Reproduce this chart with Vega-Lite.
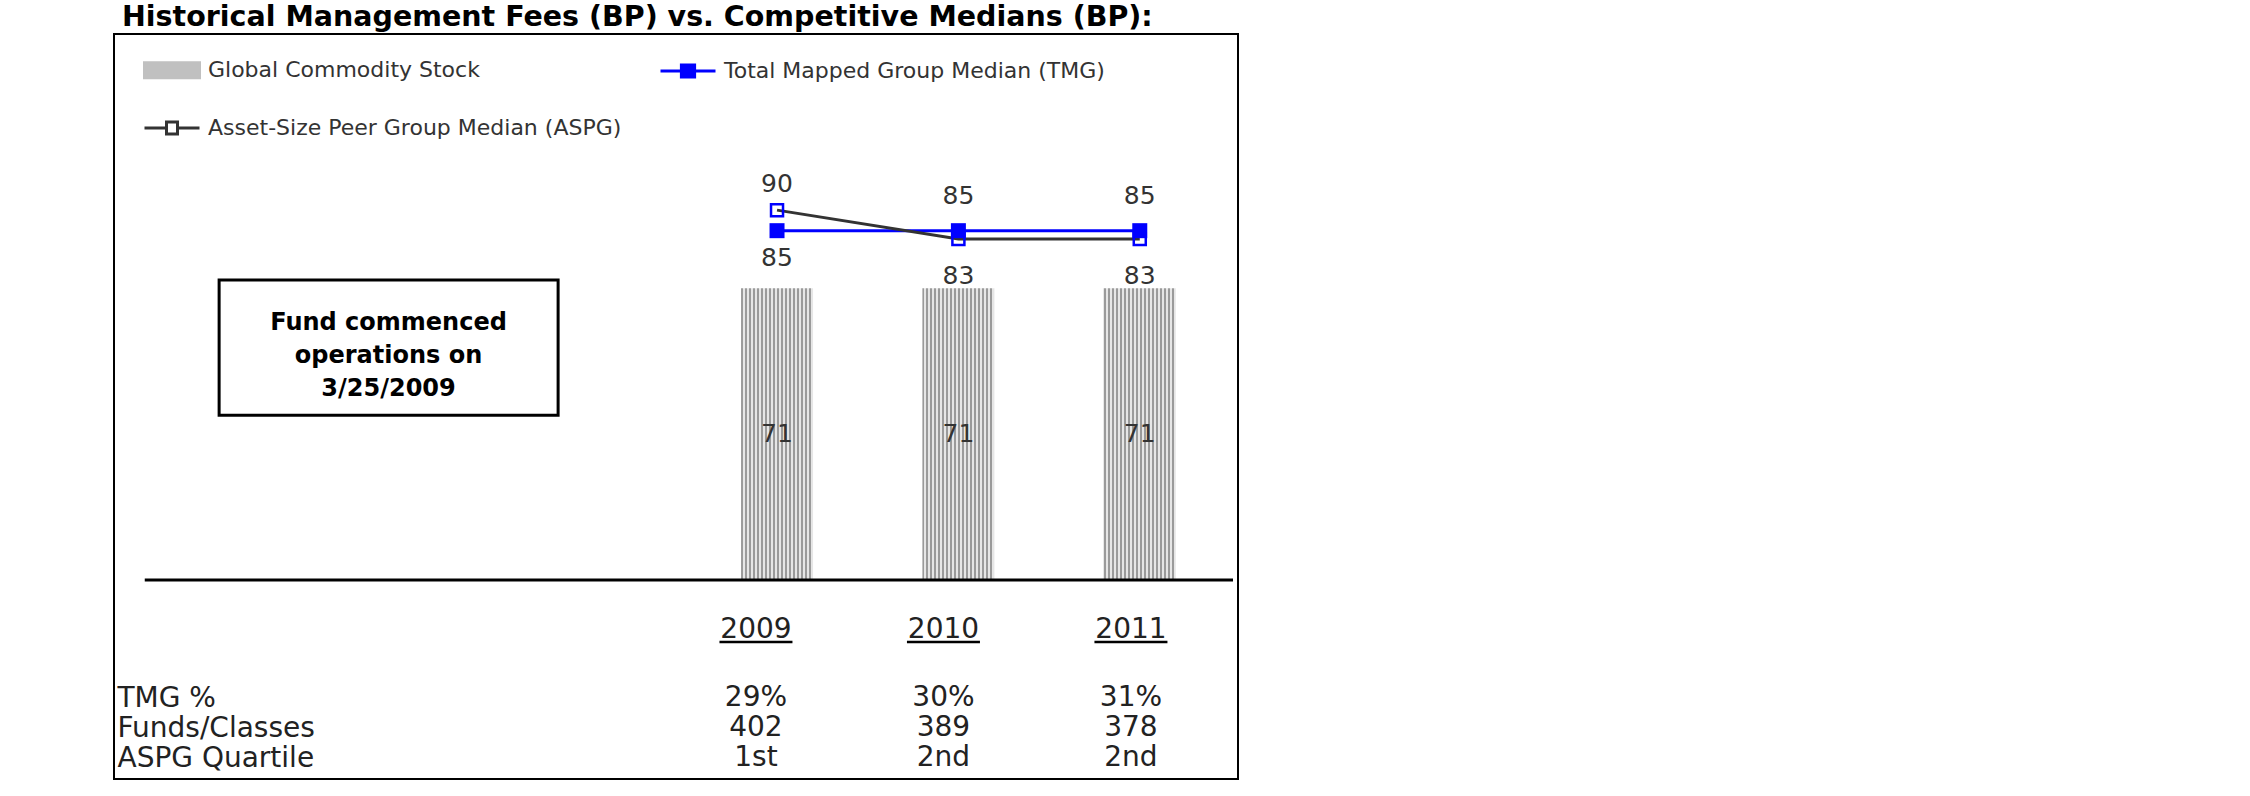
{
  "$schema": "https://vega.github.io/schema/vega-lite/v6.json",
  "width": 1124,
  "height": 745,
  "autosize": {"type": "none"},
  "padding": {"left": 114, "top": 34, "right": 1012, "bottom": 17},
  "background": "#ffffff",
  "title": {
    "text": "Historical Management Fees (BP) vs. Competitive Medians (BP):",
    "anchor": "start",
    "frame": "group",
    "font": "DejaVu Sans",
    "fontSize": 28.5,
    "fontWeight": "bold",
    "color": "#000000",
    "baseline": "alphabetic",
    "offset": -20.5,
    "dx": 8
  },
  "config": {
    "view": {"stroke": "#000000", "strokeWidth": 2},
    "font": "DejaVu Sans",
    "text": {"font": "DejaVu Sans"}
  },
  "datasets": {
    "fees": [
      {"year": 2009, "series": "Global Commodity Stock", "fee": 71},
      {"year": 2010, "series": "Global Commodity Stock", "fee": 71},
      {"year": 2011, "series": "Global Commodity Stock", "fee": 71}
    ],
    "medians": [
      {"year": 2009, "series": "Total Mapped Group Median (TMG)", "bp": 85},
      {"year": 2010, "series": "Total Mapped Group Median (TMG)", "bp": 85},
      {"year": 2011, "series": "Total Mapped Group Median (TMG)", "bp": 85},
      {"year": 2009, "series": "Asset-Size Peer Group Median (ASPG)", "bp": 90},
      {"year": 2010, "series": "Asset-Size Peer Group Median (ASPG)", "bp": 83},
      {"year": 2011, "series": "Asset-Size Peer Group Median (ASPG)", "bp": 83}
    ],
    "header": [
      {"year": 2009, "row": "Year", "label": "2009"},
      {"year": 2010, "row": "Year", "label": "2010"},
      {"year": 2011, "row": "Year", "label": "2011"}
    ],
    "table": [
      {"year": 2009, "row": "TMG %", "cell": "29%"},
      {"year": 2010, "row": "TMG %", "cell": "30%"},
      {"year": 2011, "row": "TMG %", "cell": "31%"},
      {"year": 2009, "row": "Funds/Classes", "cell": "402"},
      {"year": 2010, "row": "Funds/Classes", "cell": "389"},
      {"year": 2011, "row": "Funds/Classes", "cell": "378"},
      {"year": 2009, "row": "ASPG Quartile", "cell": "1st"},
      {"year": 2010, "row": "ASPG Quartile", "cell": "2nd"},
      {"year": 2011, "row": "ASPG Quartile", "cell": "2nd"}
    ],
    "note": [
      {"note": "Fund commenced\noperations on\n3/25/2009"}
    ]
  },
  "layer": [
    {
      "layer": [
        {
          "data": {"name": "fees"},
          "mark": {
            "type": "bar",
            "width": 72,
            "fill": {
              "gradient": "linear", "x1": 0, "x2": 1, "y1": 0, "y2": 0,
              "stops": [
                {"offset": 0, "color": "#9a9a9a"}, {"offset": 0.02778, "color": "#9a9a9a"}, {"offset": 0.02778, "color": "#e6e6e6"}, {"offset": 0.05556, "color": "#e6e6e6"},
                {"offset": 0.05556, "color": "#9a9a9a"}, {"offset": 0.08333, "color": "#9a9a9a"}, {"offset": 0.08333, "color": "#e6e6e6"}, {"offset": 0.11111, "color": "#e6e6e6"},
                {"offset": 0.11111, "color": "#9a9a9a"}, {"offset": 0.13889, "color": "#9a9a9a"}, {"offset": 0.13889, "color": "#e6e6e6"}, {"offset": 0.16667, "color": "#e6e6e6"},
                {"offset": 0.16667, "color": "#9a9a9a"}, {"offset": 0.19444, "color": "#9a9a9a"}, {"offset": 0.19444, "color": "#e6e6e6"}, {"offset": 0.22222, "color": "#e6e6e6"},
                {"offset": 0.22222, "color": "#9a9a9a"}, {"offset": 0.25, "color": "#9a9a9a"}, {"offset": 0.25, "color": "#e6e6e6"}, {"offset": 0.27778, "color": "#e6e6e6"},
                {"offset": 0.27778, "color": "#9a9a9a"}, {"offset": 0.30556, "color": "#9a9a9a"}, {"offset": 0.30556, "color": "#e6e6e6"}, {"offset": 0.33333, "color": "#e6e6e6"},
                {"offset": 0.33333, "color": "#9a9a9a"}, {"offset": 0.36111, "color": "#9a9a9a"}, {"offset": 0.36111, "color": "#e6e6e6"}, {"offset": 0.38889, "color": "#e6e6e6"},
                {"offset": 0.38889, "color": "#9a9a9a"}, {"offset": 0.41667, "color": "#9a9a9a"}, {"offset": 0.41667, "color": "#e6e6e6"}, {"offset": 0.44444, "color": "#e6e6e6"},
                {"offset": 0.44444, "color": "#9a9a9a"}, {"offset": 0.47222, "color": "#9a9a9a"}, {"offset": 0.47222, "color": "#e6e6e6"}, {"offset": 0.5, "color": "#e6e6e6"},
                {"offset": 0.5, "color": "#9a9a9a"}, {"offset": 0.52778, "color": "#9a9a9a"}, {"offset": 0.52778, "color": "#e6e6e6"}, {"offset": 0.55556, "color": "#e6e6e6"},
                {"offset": 0.55556, "color": "#9a9a9a"}, {"offset": 0.58333, "color": "#9a9a9a"}, {"offset": 0.58333, "color": "#e6e6e6"}, {"offset": 0.61111, "color": "#e6e6e6"},
                {"offset": 0.61111, "color": "#9a9a9a"}, {"offset": 0.63889, "color": "#9a9a9a"}, {"offset": 0.63889, "color": "#e6e6e6"}, {"offset": 0.66667, "color": "#e6e6e6"},
                {"offset": 0.66667, "color": "#9a9a9a"}, {"offset": 0.69444, "color": "#9a9a9a"}, {"offset": 0.69444, "color": "#e6e6e6"}, {"offset": 0.72222, "color": "#e6e6e6"},
                {"offset": 0.72222, "color": "#9a9a9a"}, {"offset": 0.75, "color": "#9a9a9a"}, {"offset": 0.75, "color": "#e6e6e6"}, {"offset": 0.77778, "color": "#e6e6e6"},
                {"offset": 0.77778, "color": "#9a9a9a"}, {"offset": 0.80556, "color": "#9a9a9a"}, {"offset": 0.80556, "color": "#e6e6e6"}, {"offset": 0.83333, "color": "#e6e6e6"},
                {"offset": 0.83333, "color": "#9a9a9a"}, {"offset": 0.86111, "color": "#9a9a9a"}, {"offset": 0.86111, "color": "#e6e6e6"}, {"offset": 0.88889, "color": "#e6e6e6"},
                {"offset": 0.88889, "color": "#9a9a9a"}, {"offset": 0.91667, "color": "#9a9a9a"}, {"offset": 0.91667, "color": "#e6e6e6"}, {"offset": 0.94444, "color": "#e6e6e6"},
                {"offset": 0.94444, "color": "#9a9a9a"}, {"offset": 0.97222, "color": "#9a9a9a"}, {"offset": 0.97222, "color": "#e6e6e6"}, {"offset": 1, "color": "#e6e6e6"}
              ]
            }
          },
          "encoding": {
            "x": {"field": "year", "type": "quantitative", "scale": {"domain": [2005.372, 2011.514], "nice": false, "zero": false}, "axis": null},
            "y": {"field": "fee", "type": "quantitative", "scale": {"domain": [-48.4, 132.85], "nice": false}, "axis": null}
          }
        },
        {
          "data": {"name": "medians"},
          "transform": [{"filter": "datum.series === 'Total Mapped Group Median (TMG)'"}],
          "mark": {"type": "line", "strokeWidth": 3},
          "encoding": {
            "x": {"field": "year", "type": "quantitative"},
            "y": {"field": "bp", "type": "quantitative"},
            "color": {
              "field": "series",
              "type": "nominal",
              "scale": {
                "domain": ["Global Commodity Stock", "Total Mapped Group Median (TMG)", "Asset-Size Peer Group Median (ASPG)"],
                "range": ["#c0c0c0", "#0000ff", "#333333"]
              },
              "legend": {
                "orient": "none",
                "legendX": 29,
                "legendY": 7,
                "direction": "horizontal",
                "columns": 2,
                "columnPadding": 32,
                "rowPadding": 15,
                "padding": 0,
                "title": null,
                "symbolSize": 3025,
                "symbolStrokeWidth": 3,
                "labelFont": "DejaVu Sans",
                "labelFontSize": 22,
                "labelColor": "#333333",
                "labelLimit": 0,
                "labelOffset": 7,
                "encode": {
                  "symbols": {
                    "update": {
                      "shape": {"signal": "datum.value === 'Global Commodity Stock' ? 'M-1,-0.27H1V0.27H-1Z' : datum.value === 'Total Mapped Group Median (TMG)' ? 'M-1,0H1M-0.24,-0.22H0.24V0.22H-0.24Z' : 'M-1,0H-0.2M0.2,0H1M-0.2,-0.22H0.2V0.22H-0.2Z'"},
                      "fill": {"signal": "datum.value === 'Global Commodity Stock' ? '#c0c0c0' : datum.value === 'Total Mapped Group Median (TMG)' ? '#0000ff' : '#ffffff'"},
                      "stroke": {"signal": "datum.value === 'Global Commodity Stock' ? 'transparent' : datum.value === 'Total Mapped Group Median (TMG)' ? '#0000ff' : '#333333'"},
                      "strokeWidth": {"value": 3},
                      "opacity": {"value": 1}
                    }
                  }
                }
              }
            }
          }
        },
        {
          "data": {"name": "medians"},
          "transform": [{"filter": "datum.series === 'Asset-Size Peer Group Median (ASPG)'"}],
          "mark": {"type": "line", "strokeWidth": 3, "color": "#333333"},
          "encoding": {
            "x": {"field": "year", "type": "quantitative"},
            "y": {"field": "bp", "type": "quantitative"}
          }
        },
        {
          "data": {"name": "medians"},
          "transform": [{"filter": "datum.series === 'Asset-Size Peer Group Median (ASPG)'"}],
          "mark": {"type": "point", "shape": "square", "size": 144, "filled": false, "stroke": "#0000ff", "strokeWidth": 2.5, "opacity": 1},
          "encoding": {
            "x": {"field": "year", "type": "quantitative"},
            "y": {"field": "bp", "type": "quantitative"}
          }
        },
        {
          "data": {"name": "medians"},
          "transform": [{"filter": "datum.series === 'Total Mapped Group Median (TMG)'"}],
          "mark": {"type": "point", "shape": "square", "size": 225, "filled": true, "color": "#0000ff", "opacity": 1},
          "encoding": {
            "x": {"field": "year", "type": "quantitative"},
            "y": {"field": "bp", "type": "quantitative"}
          }
        },
        {
          "data": {"name": "medians"},
          "transform": [{"filter": "datum.series === 'Total Mapped Group Median (TMG)' && datum.year !== 2009"}],
          "mark": {"type": "text", "fontSize": 25, "color": "#333333", "baseline": "alphabetic", "dy": -27},
          "encoding": {
            "x": {"field": "year", "type": "quantitative"},
            "y": {"field": "bp", "type": "quantitative"},
            "text": {"field": "bp", "type": "quantitative"}
          }
        },
        {
          "data": {"name": "medians"},
          "transform": [{"filter": "datum.series === 'Total Mapped Group Median (TMG)' && datum.year === 2009"}],
          "mark": {"type": "text", "fontSize": 25, "color": "#333333", "baseline": "alphabetic", "dy": 35},
          "encoding": {
            "x": {"field": "year", "type": "quantitative"},
            "y": {"field": "bp", "type": "quantitative"},
            "text": {"field": "bp", "type": "quantitative"}
          }
        },
        {
          "data": {"name": "medians"},
          "transform": [{"filter": "datum.series === 'Asset-Size Peer Group Median (ASPG)' && datum.year === 2009"}],
          "mark": {"type": "text", "fontSize": 25, "color": "#333333", "baseline": "alphabetic", "dy": -18},
          "encoding": {
            "x": {"field": "year", "type": "quantitative"},
            "y": {"field": "bp", "type": "quantitative"},
            "text": {"field": "bp", "type": "quantitative"}
          }
        },
        {
          "data": {"name": "medians"},
          "transform": [{"filter": "datum.series === 'Asset-Size Peer Group Median (ASPG)' && datum.year !== 2009"}],
          "mark": {"type": "text", "fontSize": 25, "color": "#333333", "baseline": "alphabetic", "dy": 45},
          "encoding": {
            "x": {"field": "year", "type": "quantitative"},
            "y": {"field": "bp", "type": "quantitative"},
            "text": {"field": "bp", "type": "quantitative"}
          }
        },
        {
          "data": {"name": "fees"},
          "mark": {"type": "text", "fontSize": 25, "color": "#333333", "baseline": "middle", "dy": 146},
          "encoding": {
            "x": {"field": "year", "type": "quantitative"},
            "y": {"field": "fee", "type": "quantitative"},
            "text": {"field": "fee", "type": "quantitative"}
          }
        },
        {
          "data": {"values": [{"baseline": 0}]},
          "mark": {"type": "rule", "strokeWidth": 3, "color": "#000000"},
          "encoding": {
            "y": {"field": "baseline", "type": "quantitative"},
            "x": {"datum": 2005.514},
            "x2": {"datum": 2011.514}
          }
        },
        {
          "data": {"name": "note"},
          "mark": {"type": "rect", "fill": "#ffffff", "stroke": "#000000", "strokeWidth": 3},
          "encoding": {
            "x": {"datum": 2005.924},
            "x2": {"datum": 2007.793},
            "y": {"datum": 73.0},
            "y2": {"datum": 40.1}
          }
        },
        {
          "data": {"name": "note"},
          "mark": {"type": "text", "fontSize": 24, "fontWeight": "bold", "color": "#000000", "align": "center", "baseline": "alphabetic", "lineBreak": "\n", "lineHeight": 33},
          "encoding": {
            "x": {"datum": 2006.858},
            "y": {"datum": 60.8},
            "text": {"field": "note", "type": "nominal"}
          }
        }
      ]
    },
    {
      "layer": [
        {
          "data": {"name": "header"},
          "mark": {"type": "text", "fontSize": 28, "color": "#222222", "baseline": "alphabetic", "dy": -8},
          "encoding": {
            "x": {"field": "year", "type": "quantitative", "scale": {"domain": [2005.576, 2011.571], "nice": false, "zero": false}, "axis": null},
            "y": {
              "field": "row",
              "type": "nominal",
              "scale": {"type": "point", "domain": ["Year", "blank", "TMG %", "Funds/Classes", "ASPG Quartile"], "range": [612, 732], "padding": 0},
              "axis": {
                "orient": "left",
                "values": ["TMG %", "Funds/Classes", "ASPG Quartile"],
                "domain": false,
                "ticks": false,
                "tickSize": 0,
                "grid": false,
                "title": null,
                "labelAlign": "left",
                "labelBaseline": "alphabetic",
                "labelPadding": -3,
                "labelFont": "DejaVu Sans",
                "labelFontSize": 28,
                "labelColor": "#222222",
                "labelLimit": 0,
                "labelOverlap": false,
                "offset": 0
              }
            },
            "text": {"field": "label", "type": "nominal"}
          }
        },
        {
          "data": {"name": "header"},
          "mark": {"type": "tick", "orient": "horizontal", "size": 73, "thickness": 2.5, "color": "#000000", "yOffset": -4, "opacity": 1},
          "encoding": {
            "x": {"field": "year", "type": "quantitative"},
            "y": {"field": "row", "type": "nominal"}
          }
        },
        {
          "data": {"name": "table"},
          "mark": {"type": "text", "fontSize": 28, "color": "#222222", "baseline": "alphabetic"},
          "encoding": {
            "x": {"field": "year", "type": "quantitative"},
            "y": {"field": "row", "type": "nominal"},
            "text": {"field": "cell", "type": "nominal"}
          }
        }
      ]
    }
  ],
  "resolve": {"scale": {"x": "independent", "y": "independent"}}
}
